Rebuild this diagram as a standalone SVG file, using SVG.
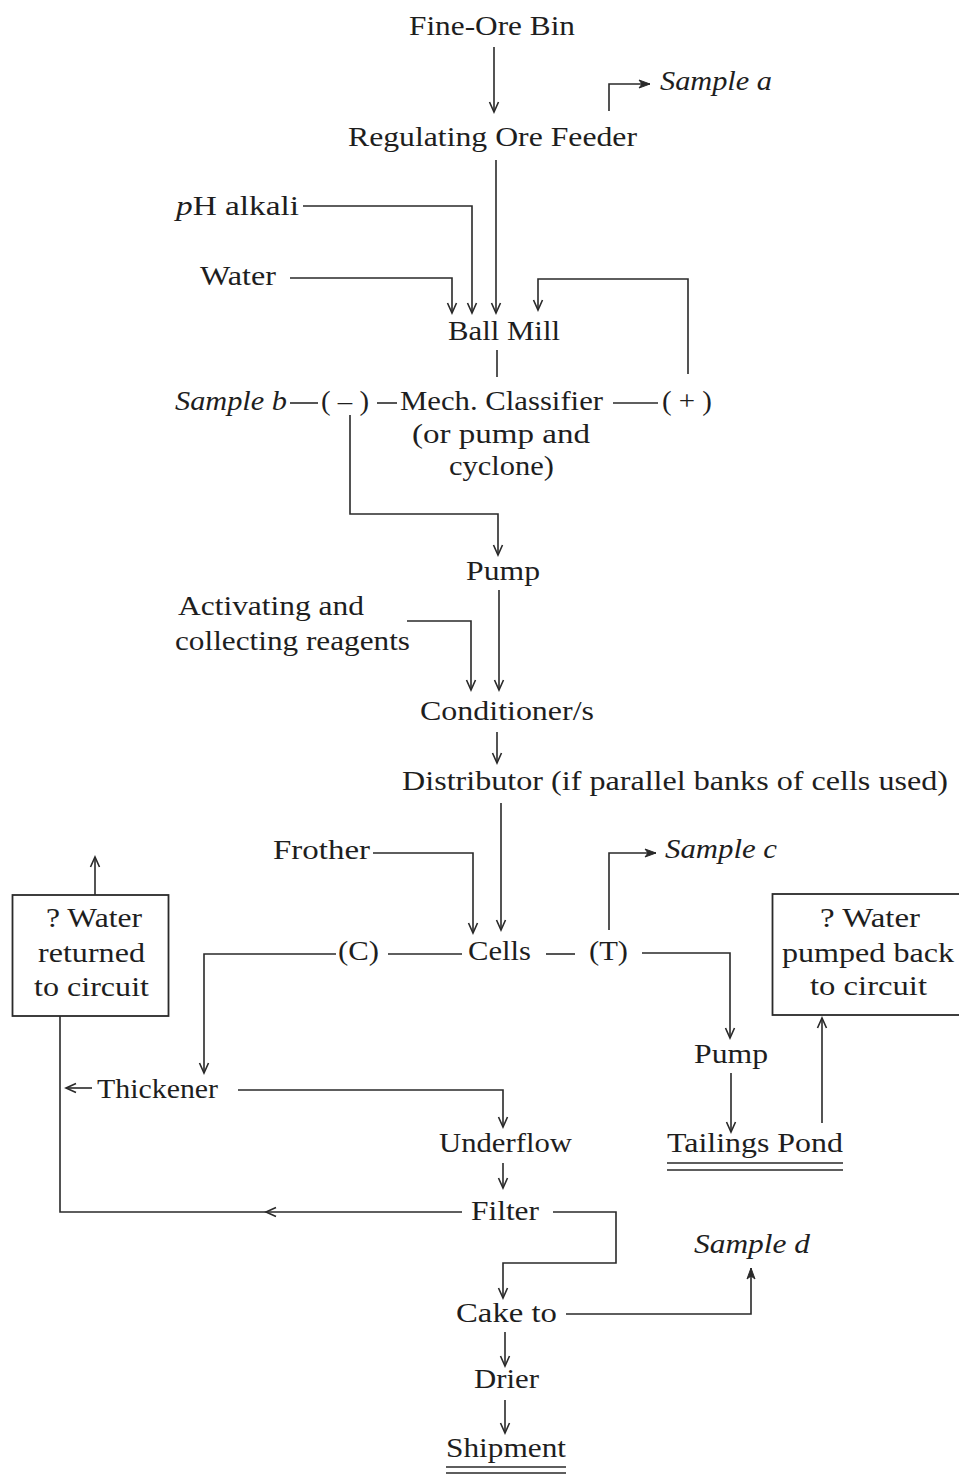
<svg xmlns="http://www.w3.org/2000/svg" width="959" height="1475" viewBox="0 0 959 1475">
<style>
text{font-family:'Liberation Serif',serif;font-size:28px;fill:#1e1e1e}
.it{font-style:italic}
.ln{fill:none;stroke:#2a2a2a;stroke-width:1.6}
.a{marker-end:url(#arr)}
.af{marker-end:url(#arrf)}
.box{fill:none;stroke:#2a2a2a;stroke-width:1.8}
</style>
<defs>
<marker id="arr" markerUnits="userSpaceOnUse" markerWidth="12" markerHeight="10" refX="11" refY="5" orient="auto" overflow="visible">
<path d="M1,0.5 L11,5 L1,9.5" fill="none" stroke="#2a2a2a" stroke-width="1.6"/>
</marker>
<marker id="arrf" markerUnits="userSpaceOnUse" markerWidth="12" markerHeight="10" refX="11" refY="5" orient="auto" overflow="visible">
<path d="M0,1 L11,5 L0,9 L3,5 Z" fill="#2a2a2a" stroke="#2a2a2a" stroke-width="1"/>
</marker>
</defs>

<g id="connectors">
<path class="ln a" d="M494,47 L494,112"/>
<path class="ln af" d="M609,111 L609,84 L650,84"/>
<path class="ln a" d="M496,160 L496,313"/>
<path class="ln a" d="M303,206 L472,206 L472,313"/>
<path class="ln a" d="M290,278 L452,278 L452,313"/>
<path class="ln a" d="M688,374 L688,279 L538,279 L538,310"/>
<path class="ln" d="M497,350 L497,377"/>
<path class="ln" d="M290,403 L318,403"/>
<path class="ln" d="M377,403 L397,403"/>
<path class="ln" d="M613,403 L658,403"/>
<path class="ln a" d="M350,415 L350,514 L498,514 L498,555"/>
<path class="ln a" d="M499,590 L499,690"/>
<path class="ln a" d="M407,621 L471,621 L471,690"/>
<path class="ln a" d="M497,732 L497,763"/>
<path class="ln a" d="M501,803 L501,930"/>
<path class="ln a" d="M373,853 L473,853 L473,933"/>
<path class="ln af" d="M609,930 L609,853 L656,853"/>
<path class="ln a" d="M336,954 L204,954 L204,1073"/>
<path class="ln" d="M388,954 L462,954"/>
<path class="ln" d="M546,954 L575,954"/>
<path class="ln a" d="M642,953 L730,953 L730,1038"/>
<path class="ln a" d="M731,1073 L731,1132"/>
<path class="ln a" d="M822,1123 L822,1018"/>
<path class="ln a" d="M95,895 L95,857"/>
<path class="ln a" d="M462,1212 L266,1212"/>
<path class="ln" d="M268,1212 L60,1212 L60,1016"/>
<path class="ln a" d="M92,1088 L66,1088"/>
<path class="ln a" d="M238,1090 L503,1090 L503,1127"/>
<path class="ln a" d="M503,1163 L503,1188"/>
<path class="ln a" d="M553,1212 L616,1212 L616,1263 L503,1263 L503,1298"/>
<path class="ln af" d="M566,1314 L751,1314 L751,1268"/>
<path class="ln a" d="M505,1332 L505,1366"/>
<path class="ln a" d="M505,1400 L505,1433"/>
</g>

<g font-family="Liberation Serif, serif">
<g id="fine-ore-bin"><text x="409" y="35" textLength="166" lengthAdjust="spacingAndGlyphs">Fine-Ore Bin</text></g>
<g id="sample-a"><text class="it" x="660" y="90" textLength="112" lengthAdjust="spacingAndGlyphs">Sample a</text></g>
<g id="regulating-ore-feeder"><text x="348" y="146" textLength="289" lengthAdjust="spacingAndGlyphs">Regulating Ore Feeder</text></g>
<g id="ph-alkali"><text x="176" y="215" textLength="123" lengthAdjust="spacingAndGlyphs"><tspan class="it">p</tspan>H alkali</text></g>
<g id="water"><text x="200" y="285" textLength="76" lengthAdjust="spacingAndGlyphs">Water</text></g>
<g id="ball-mill"><text x="448" y="340" textLength="112" lengthAdjust="spacingAndGlyphs">Ball Mill</text></g>
<g id="sample-b"><text class="it" x="175" y="410" textLength="112" lengthAdjust="spacingAndGlyphs">Sample b</text></g>
<g id="fines"><text x="321" y="410" textLength="48" lengthAdjust="spacingAndGlyphs">( – )</text></g>
<g id="classifier">
<text x="400" y="410" textLength="203" lengthAdjust="spacingAndGlyphs">Mech. Classifier</text>
<text x="412" y="443" textLength="178" lengthAdjust="spacingAndGlyphs">(or pump and</text>
<text x="449" y="475" textLength="105" lengthAdjust="spacingAndGlyphs">cyclone)</text>
</g>
<g id="coarse"><text x="662" y="410" textLength="50" lengthAdjust="spacingAndGlyphs">( + )</text></g>
<g id="pump-1"><text x="466" y="580" textLength="74" lengthAdjust="spacingAndGlyphs">Pump</text></g>
<g id="reagents">
<text x="178" y="615" textLength="186" lengthAdjust="spacingAndGlyphs">Activating and</text>
<text x="175" y="650" textLength="235" lengthAdjust="spacingAndGlyphs">collecting reagents</text>
</g>
<g id="conditioner"><text x="420" y="720" textLength="174" lengthAdjust="spacingAndGlyphs">Conditioner/s</text></g>
<g id="distributor"><text x="402" y="790" textLength="546" lengthAdjust="spacingAndGlyphs">Distributor (if parallel banks of cells used)</text></g>
<g id="frother"><text x="273" y="859" textLength="97" lengthAdjust="spacingAndGlyphs">Frother</text></g>
<g id="sample-c"><text class="it" x="665" y="858" textLength="112" lengthAdjust="spacingAndGlyphs">Sample c</text></g>
<g id="water-returned">
<rect class="box" x="12.5" y="895" width="156" height="121"/>
<text x="46" y="927" textLength="96" lengthAdjust="spacingAndGlyphs">? Water</text>
<text x="38" y="962" textLength="107" lengthAdjust="spacingAndGlyphs">returned</text>
<text x="34" y="996" textLength="115" lengthAdjust="spacingAndGlyphs">to circuit</text>
</g>
<g id="concentrate"><text x="338" y="960" textLength="41" lengthAdjust="spacingAndGlyphs">(C)</text></g>
<g id="cells"><text x="468" y="960" textLength="63" lengthAdjust="spacingAndGlyphs">Cells</text></g>
<g id="tailings"><text x="589" y="960" textLength="39" lengthAdjust="spacingAndGlyphs">(T)</text></g>
<g id="water-pumped-back">
<rect class="box" x="772.5" y="894" width="200" height="121"/>
<text x="820" y="927" textLength="100" lengthAdjust="spacingAndGlyphs">? Water</text>
<text x="782" y="962" textLength="172" lengthAdjust="spacingAndGlyphs">pumped back</text>
<text x="810" y="995" textLength="117" lengthAdjust="spacingAndGlyphs">to circuit</text>
</g>
<g id="pump-2"><text x="694" y="1063" textLength="74" lengthAdjust="spacingAndGlyphs">Pump</text></g>
<g id="thickener"><text x="97" y="1098" textLength="121" lengthAdjust="spacingAndGlyphs">Thickener</text></g>
<g id="underflow"><text x="439" y="1152" textLength="133" lengthAdjust="spacingAndGlyphs">Underflow</text></g>
<g id="tailings-pond">
<text x="667" y="1152" textLength="176" lengthAdjust="spacingAndGlyphs">Tailings Pond</text>
<path class="ln" d="M667,1163 L843,1163 M667,1170 L843,1170"/>
</g>
<g id="filter"><text x="471" y="1220" textLength="68" lengthAdjust="spacingAndGlyphs">Filter</text></g>
<g id="sample-d"><text class="it" x="694" y="1253" textLength="116" lengthAdjust="spacingAndGlyphs">Sample d</text></g>
<g id="cake"><text x="456" y="1322" textLength="101" lengthAdjust="spacingAndGlyphs">Cake to</text></g>
<g id="drier"><text x="474" y="1388" textLength="65" lengthAdjust="spacingAndGlyphs">Drier</text></g>
<g id="shipment">
<text x="446" y="1457" textLength="120" lengthAdjust="spacingAndGlyphs">Shipment</text>
<path class="ln" d="M446,1467 L566,1467 M446,1473 L566,1473"/>
</g>
</g>
</svg>
